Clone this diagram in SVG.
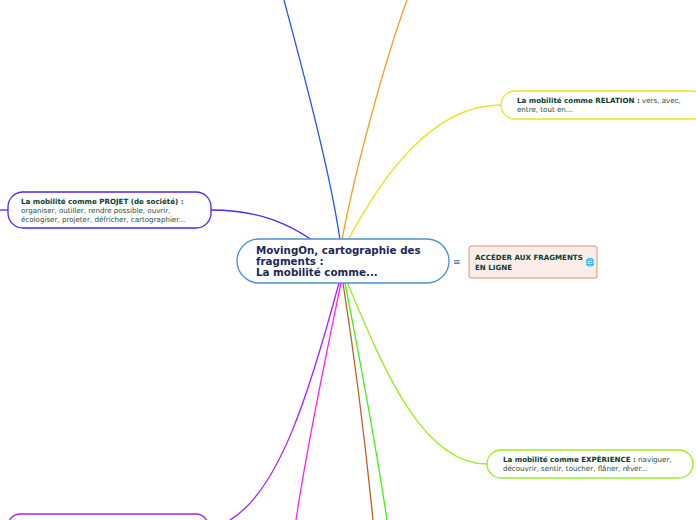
<svg xmlns="http://www.w3.org/2000/svg" width="696" height="520" viewBox="0 0 696 520">
<style>
text{font-family:"DejaVu Sans","Liberation Sans",sans-serif;font-size:7.1px;fill:#1f4d3a}
.b{font-weight:bold;fill:#0d3b2a}
.t{font-weight:bold;font-size:10.3px;fill:#1a2a55}
.c{fill:none;stroke-width:1.3}
.n{fill:#fff;stroke-width:1.3}
</style>
<rect width="696" height="520" fill="#fff"/>
<g id="connectors">
<path class="c" stroke="#2255ee" d="M340 240 C330 170 300 60 284 0"/>
<path class="c" stroke="#f7a020" d="M342 240 C355 170 385 60 407 0"/>
<path class="c" stroke="#f0e020" d="M347 242 C380 180 430 105 501 105"/>
<path class="c" stroke="#5522ee" d="M312 240 C290 225 260 210 211 210"/>
<path class="c" stroke="#5522ee" d="M8 210 L0 210"/>
<path class="c" stroke="#99ee22" d="M347 282 C380 360 420 464 487 464"/>
<path class="c" stroke="#44ee11" d="M345 283 C360 360 375 440 387 520"/>
<path class="c" stroke="#c06020" d="M343 283 C355 360 365 440 373 520"/>
<path class="c" stroke="#ff22ee" d="M341 283 C325 360 308 440 296 520"/>
<path class="c" stroke="#aa22ff" d="M339 283 C310 390 280 490 230 520"/>
</g>
<g id="center">
<rect x="237" y="239" width="212" height="44" rx="22" fill="#fff" stroke="#4a90d0" stroke-width="1.3"/>
<text class="t" x="256" y="254">MovingOn, cartographie des</text>
<text class="t" x="256" y="265">fragments :</text>
<text class="t" x="256" y="276">La mobilité comme...</text>
<text x="453" y="265" style="font-size:9px;fill:#4466aa">≡</text>
</g>
<g id="acceder">
<rect x="469" y="246" width="128" height="32" rx="2" fill="#fbeee8" stroke="#e09070" stroke-width="1"/>
<text class="b" x="475" y="260">ACCÉDER AUX FRAGMENTS</text>
<text class="b" x="475" y="270">EN LIGNE</text>
<text x="585" y="265" style="font-size:8px">🌐</text>
</g>
<g id="relation">
<rect class="n" x="501" y="91" width="205" height="28" rx="14" stroke="#f0e020"/>
<text x="517" y="103"><tspan class="b">La mobilité comme RELATION :</tspan> vers, avec,</text>
<text x="517" y="112">entre, tout en...</text>
</g>
<g id="projet">
<rect class="n" x="8" y="192" width="203" height="36" rx="15" stroke="#5522ee"/>
<text class="b" x="21" y="204">La mobilité comme PROJET (de société) :</text>
<text x="21" y="213">organiser, outiller, rendre possible, ouvrir,</text>
<text x="21" y="222">écologiser, projeter, défricher, cartographier...</text>
</g>
<g id="experience">
<rect class="n" x="487" y="450" width="206" height="28" rx="14" stroke="#99ee22"/>
<text x="503" y="462"><tspan class="b">La mobilité comme EXPÉRIENCE :</tspan> naviguer,</text>
<text x="503" y="471">découvrir, sentir, toucher, flâner, rêver...</text>
</g>
<g id="bottom">
<rect class="n" x="8" y="514" width="200" height="30" rx="12" stroke="#aa22ff"/>
</g>
</svg>
